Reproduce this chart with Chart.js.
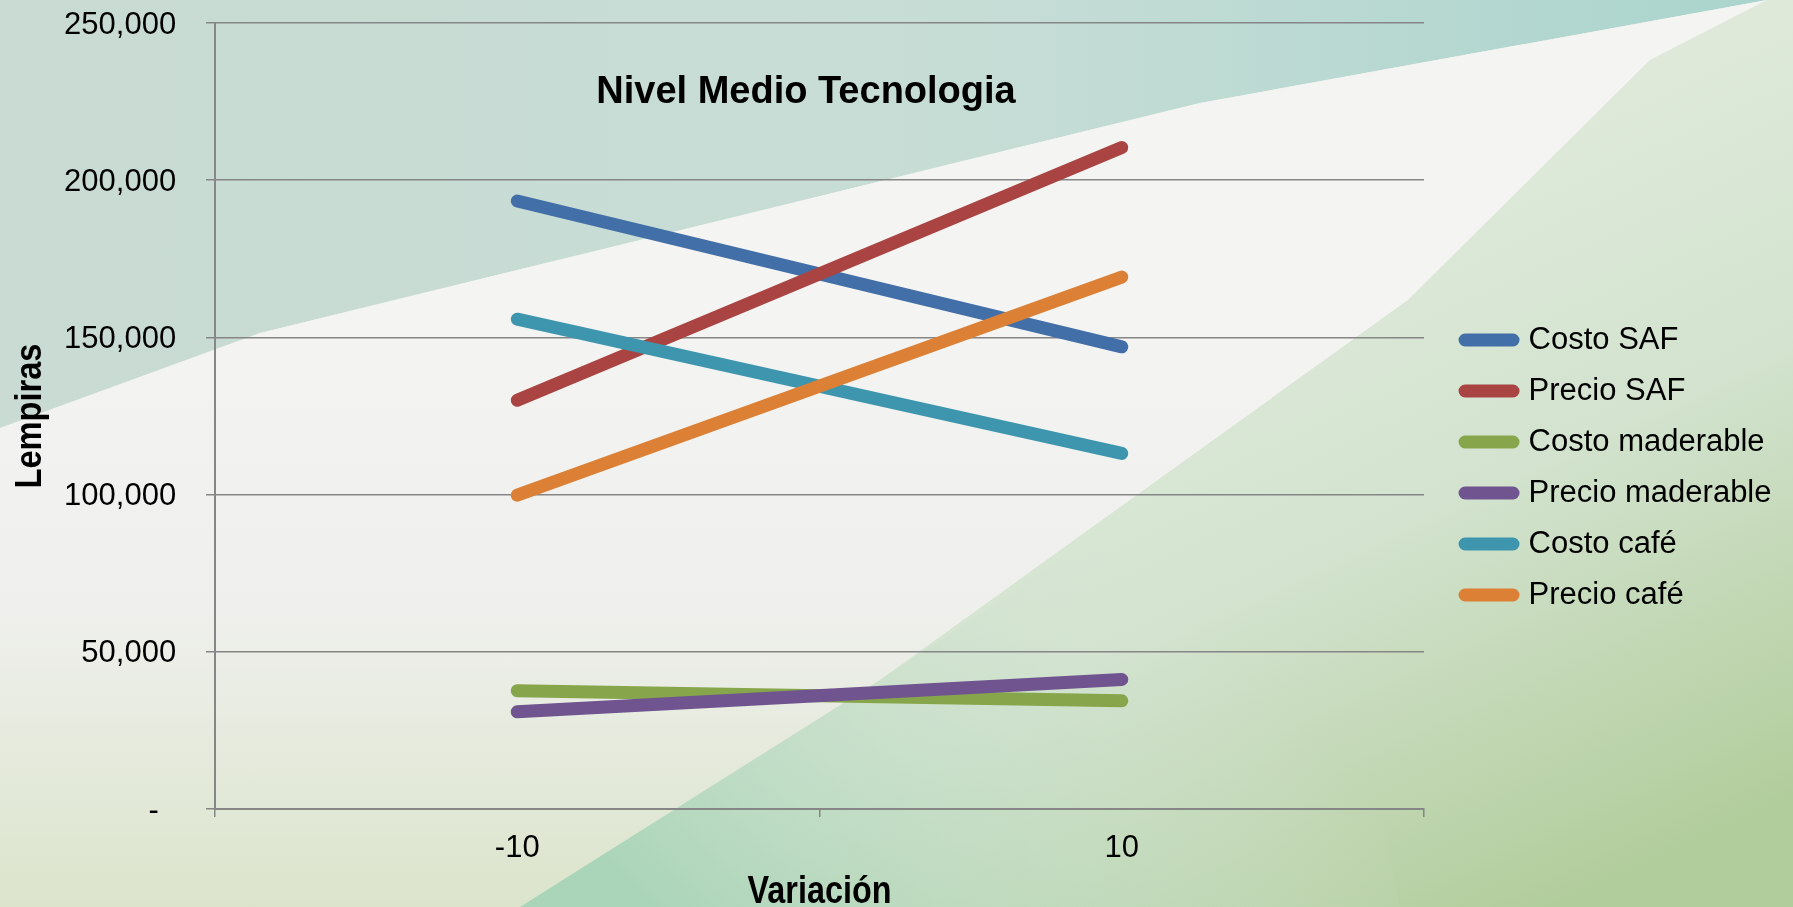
<!DOCTYPE html>
<html>
<head>
<meta charset="utf-8">
<script src="https://cdn.jsdelivr.net/npm/chart.js@4/dist/chart.umd.min.js"></script>
<style>
  html, body { margin: 0; padding: 0; }
  #wrap { position: relative; width: 1793px; height: 907px; overflow: hidden; }
  #bg { position: absolute; left: 0; top: 0; }
  #c { position: absolute; left: 0; top: 0; }
</style>
</head>
<body>
<div id="wrap">
<svg id="bg" width="1793" height="907" xmlns="http://www.w3.org/2000/svg">
  <defs>
    <linearGradient id="gBase" x1="0" y1="0" x2="0" y2="1">
      <stop offset="0" stop-color="#e9eee6"/><stop offset="1" stop-color="#d6e2c6"/>
    </linearGradient>
    <linearGradient id="gTop" x1="0" y1="0" x2="1" y2="0">
      <stop offset="0" stop-color="#c9dbd2"/><stop offset="0.55" stop-color="#c6ddd6"/><stop offset="1" stop-color="#a9d4cd"/>
    </linearGradient>
    <linearGradient id="gWhite" gradientUnits="userSpaceOnUse" x1="0" y1="300" x2="0" y2="907">
      <stop offset="0" stop-color="#f4f4f2"/><stop offset="0.5" stop-color="#eff0ed"/><stop offset="1" stop-color="#dbe4cb"/>
    </linearGradient>
    <linearGradient id="gRight" gradientUnits="userSpaceOnUse" x1="1200" y1="150" x2="1550" y2="907">
      <stop offset="0" stop-color="#e2ebde"/><stop offset="0.5" stop-color="#d3e3cf"/><stop offset="1" stop-color="#b2cd9c"/>
    </linearGradient>
    <linearGradient id="gMint" gradientUnits="userSpaceOnUse" x1="650" y1="907" x2="1100" y2="500">
      <stop offset="0" stop-color="#a6d3b6" stop-opacity="0.9"/><stop offset="1" stop-color="#d6e6d6" stop-opacity="0"/>
    </linearGradient>
  </defs>
  <rect width="1793" height="907" fill="url(#gBase)"/>
  <polygon points="0,0 1793,0 1767,0 1200,103 260,333 0,428" fill="url(#gTop)"/>
  <polygon points="0,428 260,333 1200,103 1767,0 1650,60 1408,300 880,680 520,907 0,907" fill="url(#gWhite)"/>
  <polygon points="1767,0 1793,0 1793,907 520,907 880,680 1408,300 1650,60" fill="url(#gRight)"/>
  <polygon points="520,907 880,680 1300,400 1400,907" fill="url(#gMint)"/>
</svg>
<canvas id="c" width="1793" height="907"></canvas>
</div>
<script>
// ---- data ----
const categories = ['-10', '10'];
const seriesNames = ['Costo SAF', 'Precio SAF', 'Costo maderable', 'Precio maderable', 'Costo café', 'Precio café'];
const costoSAF = [193400, 147000];
const precioSAF = [130000, 210400];
const costoMaderable = [37600, 34400];
const precioMaderable = [30900, 41200];
const costoCafe = [155800, 113100];
const precioCafe = [99800, 169200];
const yTicks = [0, 50000, 100000, 150000, 200000, 250000];
const chartTitle = 'Nivel Medio Tecnologia';
const xTitle = 'Variación';
const yTitle = 'Lempiras';

const seriesValues = [costoSAF, precioSAF, costoMaderable, precioMaderable, costoCafe, precioCafe];
const colors = ['#436fa8', '#a94442', '#87a54a', '#6f548f', '#3e96ae', '#dc8035'];

const FAMILY = "'Liberation Sans', Arial, sans-serif";
Chart.defaults.font.family = FAMILY;
Chart.defaults.color = '#000';

const GRID = '#868686';

// chart title + condensed bold axis titles, drawn as text
const textPlugin = {
  id: 'texts',
  afterDraw(chart) {
    const ctx = chart.ctx;
    const a = chart.chartArea;
    ctx.save();
    ctx.fillStyle = '#000';
    ctx.textAlign = 'center';
    ctx.textBaseline = 'middle';
    ctx.font = "bold 38px " + FAMILY;
    ctx.fillText(chartTitle, 806, 93);

    // x axis title (condensed)
    ctx.save();
    ctx.translate((a.left + a.right) / 2, 892);
    ctx.scale(0.83, 1);
    ctx.font = "bold 39px " + FAMILY;
    ctx.fillText(xTitle, 0, 0);
    ctx.restore();

    // y axis title (condensed, rotated)
    ctx.save();
    ctx.translate(31, (a.top + a.bottom) / 2);
    ctx.rotate(-Math.PI / 2);
    ctx.scale(0.88, 1);
    ctx.font = "bold 37px " + FAMILY;
    ctx.fillText(yTitle, 0, 0);
    ctx.restore();

    ctx.restore();
  }
};

const datasets = seriesNames.map((name, i) => ({
  label: name,
  data: seriesValues[i],
  borderColor: colors[i],
  backgroundColor: colors[i],
  borderWidth: 13,
  borderCapStyle: 'round',
  borderJoinStyle: 'round',
  pointRadius: 0,
  pointHoverRadius: 0,
  tension: 0,
  fill: false,
  clip: false,
  order: -i
}));

new Chart(document.getElementById('c'), {
  type: 'line',
  data: { labels: categories, datasets },
  options: {
    responsive: false,
    animation: false,
    events: [],
    layout: { padding: { top: 23, right: 11.5, bottom: -5, left: 0 } },
    plugins: {
      tooltip: { enabled: false },
      title: { display: false },
      legend: {
        display: true,
        position: 'right',
        align: 'center',
        maxWidth: 420,
        labels: {
          font: { size: 31 },
          color: '#000',
          boxWidth: 48,
          boxHeight: 0,
          padding: 20,
          sort: (a, b) => a.datasetIndex - b.datasetIndex
        }
      }
    },
    scales: {
      x: {
        type: 'category',
        offset: true,
        grid: {
          display: true,
          offset: true,
          drawOnChartArea: false,
          drawTicks: true,
          tickLength: 8,
          color: GRID,
          lineWidth: 1.5
        },
        border: { display: true, color: GRID, width: 2 },
        ticks: { font: { size: 31 }, color: '#000', padding: 13, maxRotation: 0 },
        title: { display: false },
        afterFit(scale) { scale.height = 103; }
      },
      y: {
        type: 'linear',
        position: 'left',
        min: 0,
        max: 250000,
        afterBuildTicks(scale) { scale.ticks = yTicks.map(v => ({ value: v })); },
        grid: {
          display: true,
          color: GRID,
          lineWidth: 1.5,
          drawTicks: true,
          tickLength: 9
        },
        border: { display: true, color: GRID, width: 2 },
        ticks: {
          font: { size: 31, lineHeight: 1 },
          color: '#000',
          padding: 4,
          labelOffset: 2,
          callback: (v) => v === 0 ? '-\u00a0\u00a0\u00a0\u00a0\u00a0' : v.toLocaleString('en-US') + '\u00a0\u00a0\u00a0'
        },
        title: { display: false },
        afterFit(scale) { scale.width = 215; }
      },
      yR: {
        type: 'linear',
        position: 'right',
        display: true,
        grid: { display: false, drawTicks: false },
        border: { display: false },
        ticks: { display: false },
        afterFit(scale) { scale.width = 21; }
      }
    }
  },
  plugins: [textPlugin]
});
</script>
</body>
</html>
